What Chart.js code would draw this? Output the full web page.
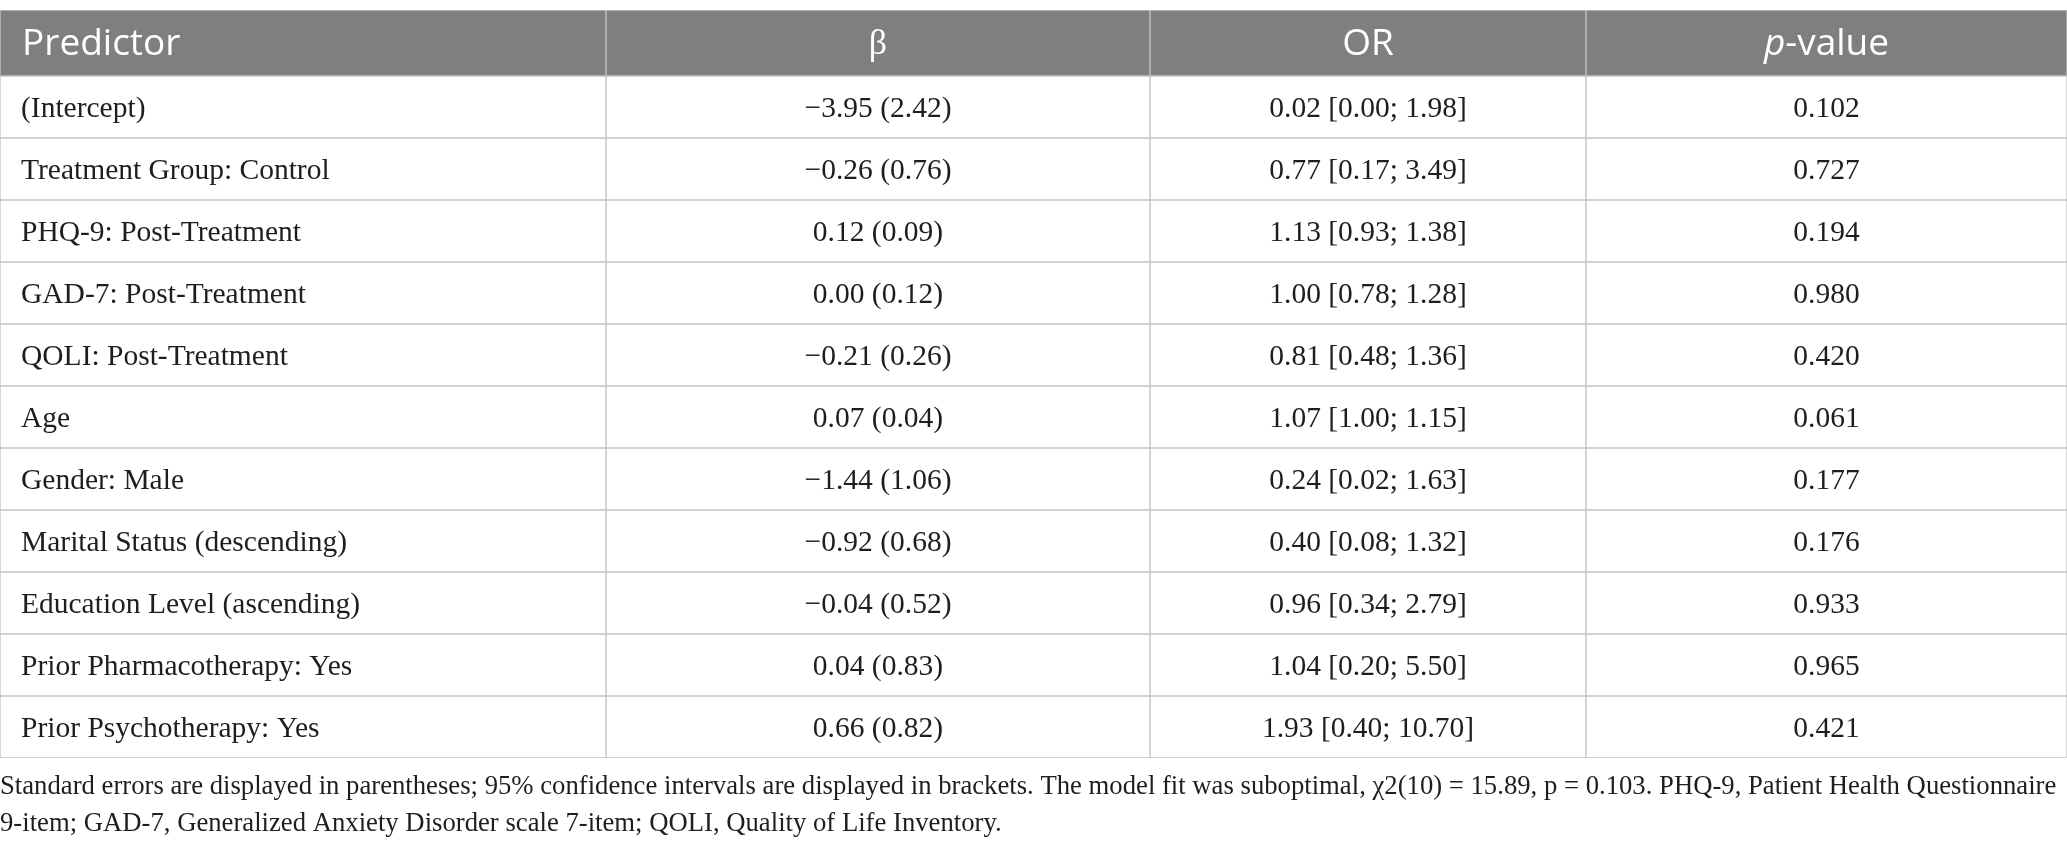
<!DOCTYPE html>
<html>
<head>
<meta charset="utf-8">
<title>Logistic regression predictors</title>
<script src="https://cdn.jsdelivr.net/npm/chart.js@4.4.1/dist/chart.umd.min.js"></script>
<style>
  html, body { margin: 0; padding: 0; background: #fff; }
  #wrap { width: 2067px; height: 850px; }
</style>
</head>
<body>
<div id="wrap"><canvas id="tableChart"></canvas></div>
<script>
// ===== Table data =====
const headers = ["Predictor", "β", "OR", "p-value"];
const predictors = [
  "(Intercept)",
  "Treatment Group: Control",
  "PHQ-9: Post-Treatment",
  "GAD-7: Post-Treatment",
  "QOLI: Post-Treatment",
  "Age",
  "Gender: Male",
  "Marital Status (descending)",
  "Education Level (ascending)",
  "Prior Pharmacotherapy: Yes",
  "Prior Psychotherapy: Yes"
];
const beta      = [-3.95, -0.26, 0.12, 0.00, -0.21, 0.07, -1.44, -0.92, -0.04, 0.04, 0.66];
const betaSE    = [2.42, 0.76, 0.09, 0.12, 0.26, 0.04, 1.06, 0.68, 0.52, 0.83, 0.82];
const oddsRatio = [0.02, 0.77, 1.13, 1.00, 0.81, 1.07, 0.24, 0.40, 0.96, 1.04, 1.93];
const orLower   = [0.00, 0.17, 0.93, 0.78, 0.48, 1.00, 0.02, 0.08, 0.34, 0.20, 0.40];
const orUpper   = [1.98, 3.49, 1.38, 1.28, 1.36, 1.15, 1.63, 1.32, 2.79, 5.50, 10.70];
const pValues   = [0.102, 0.727, 0.194, 0.980, 0.420, 0.061, 0.177, 0.176, 0.933, 0.965, 0.421];
const footnote = [
  "Standard errors are displayed in parentheses; 95% confidence intervals are displayed in brackets. The model fit was suboptimal, χ2(10) = 15.89, p = 0.103. PHQ-9, Patient Health Questionnaire",
  "9-item; GAD-7, Generalized Anxiety Disorder scale 7-item; QOLI, Quality of Life Inventory."
];

// ===== Layout / style =====
const colWidths = [606, 544, 436, 481];   // relative column widths
const headerHeight = 66;                  // header row is a bit taller
const rowHeight = 62;
const headerGray = "#7f807e";
const lineGray = "#c4c4c4";

const fmt = (v, d) => v.toFixed(d).replace("-", "\u2212");

const colEdges = colWidths.reduce((acc, w) => acc.concat(acc[acc.length - 1] + w), [0]);
const rowCenters = predictors.map((_, i) => headerHeight + rowHeight * (i + 0.5));
const tableHeight = headerHeight + rowHeight * predictors.length;

const cellText = [
  predictors,
  beta.map((b, i) => fmt(b, 2) + " (" + fmt(betaSE[i], 2) + ")"),
  oddsRatio.map((o, i) => fmt(o, 2) + " [" + fmt(orLower[i], 2) + "; " + fmt(orUpper[i], 2) + "]"),
  pValues.map(p => fmt(p, 3))
];

const cellStyle = {
  borderColor: lineGray,
  borderWidth: 1,
  borderSkipped: false,
  grouped: false
};

// header cells: one floating bar per column
const headerSet = Object.assign({
  label: "header",
  data: colWidths.map((w, c) => ({ x: [colEdges[c], colEdges[c + 1]], y: headerHeight / 2 })),
  backgroundColor: headerGray,
  barThickness: headerHeight
}, cellStyle);

// body cells: one dataset per column, one floating bar per predictor
const bodySets = colWidths.map((w, c) => Object.assign({
  label: "col" + c,
  data: rowCenters.map(yc => ({ x: [colEdges[c], colEdges[c + 1]], y: yc })),
  backgroundColor: "#ffffff",
  barThickness: rowHeight
}, cellStyle));

// ===== Cell text plugin =====
const tableText = {
  id: "tableText",
  afterDatasetsDraw(chart) {
    const ctx = chart.ctx;
    ctx.save();
    ctx.textBaseline = "middle";
    chart.data.datasets.forEach((ds, d) => {
      chart.getDatasetMeta(d).data.forEach((bar, i) => {
        const { x, base, y } = bar.getProps(["x", "base", "y"], true);
        const left = Math.min(x, base), right = Math.max(x, base);
        const mid = (left + right) / 2;
        if (d === 0) {
          const c = i;
          ctx.fillStyle = "#ffffff";
          if (c === 0) {
            ctx.font = "37px 'Open Sans'";
            ctx.textAlign = "left";
            ctx.fillText(headers[c], left + 22, y + 1);
          } else if (c === 1) {
            ctx.font = "36px 'Liberation Serif'";
            ctx.textAlign = "center";
            ctx.fillText(headers[c], mid, y + 2);
          } else if (c === 3) {
            // italic "p" followed by "-value"
            ctx.font = "italic 37px 'Open Sans'";
            const pw = ctx.measureText("p").width;
            ctx.font = "37px 'Open Sans'";
            const rw = ctx.measureText("-value").width;
            const start = mid - (pw + rw) / 2;
            ctx.textAlign = "left";
            ctx.fillText("-value", start + pw, y + 1);
            ctx.font = "italic 37px 'Open Sans'";
            ctx.fillText("p", start, y + 1);
          } else {
            ctx.font = "37px 'Open Sans'";
            ctx.textAlign = "center";
            ctx.fillText(headers[c], mid, y + 1);
          }
        } else {
          const c = d - 1;
          ctx.fillStyle = "#1e1e1e";
          ctx.font = "29.5px 'Liberation Serif'";
          const txt = cellText[c][i];
          if (c === 0) {
            ctx.textAlign = "left";
            ctx.fillText(txt, left + 21, y + 2);
          } else {
            ctx.textAlign = "center";
            ctx.fillText(txt, mid, y + 2);
          }
        }
      });
    });
    ctx.restore();
  }
};

new Chart(document.getElementById("tableChart").getContext("2d"), {
  type: "bar",
  data: { datasets: [headerSet].concat(bodySets) },
  options: {
    indexAxis: "y",
    responsive: true,
    maintainAspectRatio: false,
    animation: false,
    events: [],
    layout: { padding: { top: 10, left: 0, right: 0, bottom: 0 } },
    scales: {
      x: { type: "linear", min: 0, max: colEdges[colEdges.length - 1], display: false },
      y: { type: "linear", min: 0, max: tableHeight, reverse: true, offset: false, grace: 0, display: false }
    },
    plugins: {
      legend: { display: false },
      tooltip: { enabled: false },
      title: {
        display: true,
        position: "bottom",
        align: "start",
        text: footnote,
        color: "#1e1e1e",
        font: { family: "'Liberation Serif'", size: 26.7, weight: "normal", lineHeight: 1.386 },
        padding: { top: 10.5, bottom: 7.5 }
      }
    }
  },
  plugins: [tableText]
});
</script>
</body>
</html>
